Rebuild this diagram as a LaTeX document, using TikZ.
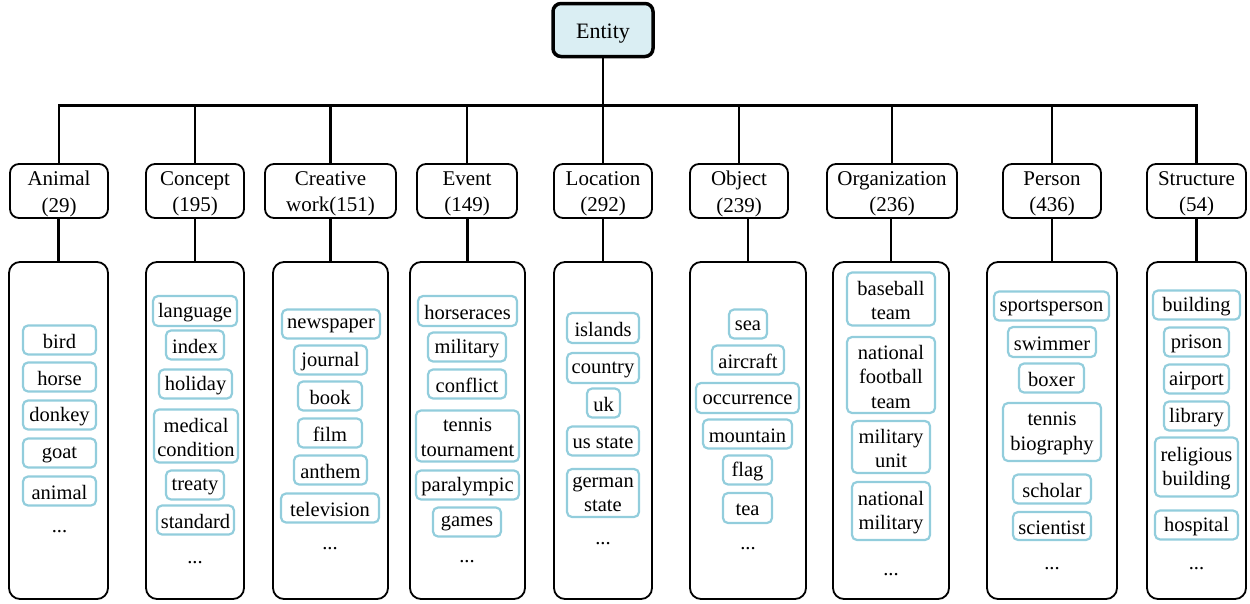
\documentclass[tikz,border=0pt]{standalone}
\usepackage{fontspec}
\setmainfont{Liberation Serif}
\definecolor{rootfill}{HTML}{DAEEF3}
\definecolor{tagline}{HTML}{92CDDC}
\newcommand\rootFont{\fontsize{22}{26}\selectfont}
\newcommand\catFont{\fontsize{21}{26.5}\selectfont}
\newcommand\tagFont{\fontsize{20.5}{24.5}\selectfont}
\tikzset{
  rootbox/.style={draw, line width=3.5pt, rounded corners=8pt, fill=rootfill,
    minimum width=100pt, minimum height=53pt, inner sep=0pt},
  catbox/.style={draw, line width=1.8pt, rounded corners=9pt,
    minimum height=54pt, inner sep=0pt},
  panel/.style={draw, line width=1.8pt, rounded corners=11pt,
    minimum height=337pt, inner sep=0pt},
  tag/.style={draw=tagline, line width=2.2pt, rounded corners=5pt, inner sep=0pt},
  label text/.style={align=center, inner sep=0pt},
  dots/.style={anchor=base, inner sep=0pt, font=\tagFont},
  link/.style={line width=2.6pt, line join=miter},
}
% frame node plus its centred caption
\newcommand\catnode[4]{%
  \node[catbox, minimum width=#3pt] (#1) at (#2,191) {};
  \node[label text, font=\catFont] (#1t) at ([yshift=-3pt]#1.center) {#4};}
\newcommand\tagnode[6]{%
  \node[tag, minimum width=#4pt, minimum height=#5pt] (#1) at (#2,#3) {};
  \node[label text, font=\tagFont] (#1t) at ([yshift=-1.5pt]#1.center) {#6};}
\begin{document}
\begin{tikzpicture}[x=1pt,y=-1pt]
\useasboundingbox (0,0) rectangle (1250,603);

% root
\node[rootbox] (root) at (603,30) {};
\node[label text, font=\rootFont] (roott) at ([yshift=-4pt]root.center) {Entity};

% categories
\catnode{cA}{59}{98}{Animal\\(29)}
\catnode{cC}{195}{98}{Concept\\(195)}
\catnode{cW}{330.5}{131}{Creative\\work(151)}
\catnode{cE}{467}{100}{Event\\(149)}
\catnode{cL}{603}{98}{Location\\(292)}
\catnode{cO}{739}{98}{Object\\(239)}
\catnode{cG}{892}{130}{Organization\\(236)}
\catnode{cP}{1052}{98}{Person\\(436)}
\catnode{cS}{1196.5}{99}{Structure\\(54)}

% panels
\node[panel, minimum width=99pt]  (pA) at (58.5,430.5)  {};
\node[panel, minimum width=98pt]  (pC) at (195,430.5)   {};
\node[panel, minimum width=115pt] (pW) at (330.5,430.5) {};
\node[panel, minimum width=115pt] (pE) at (467.5,430.5) {};
\node[panel, minimum width=98pt]  (pL) at (603,430.5)   {};
\node[panel, minimum width=116pt] (pO) at (748,430.5)   {};
\node[panel, minimum width=116pt] (pG) at (891,430.5)   {};
\node[panel, minimum width=130pt] (pP) at (1052,430.5)  {};
\node[panel, minimum width=99pt]  (pS) at (1196.5,430.5){};

% tree connectors
\coordinate (bar) at (0,105.5);
\draw[link] (cA.north) -- (cA.north |- bar) -- (cS.north |- bar) -- (cS.north);
\draw[link] (root.south) -- (root.south |- bar);
\foreach \c in {cC,cW,cE,cL,cO,cG,cP}
  \draw[link] (\c.north) -- (\c.north |- bar);
\foreach \c/\p in {cA/pA,cC/pC,cW/pW,cE/pE,cL/pL,cO/pO,cG/pG,cP/pP,cS/pS}
  \draw[link] (\p.north) -- (\p.north |- \c.south);

% Animal
\tagnode{a1}{59.5}{340}{73}{29}{bird}
\tagnode{a2}{59.5}{377}{73}{29}{horse}
\tagnode{a3}{59.5}{415}{73}{29}{donkey}
\tagnode{a4}{59.5}{453}{73}{29}{goat}
\tagnode{a5}{59.5}{491}{73}{29}{animal}
\node[dots] (a6) at (59.5,532) {...};

% Concept
\tagnode{b1}{195}{311}{84}{30}{language}
\tagnode{b2}{195}{345}{58}{29}{index}
\tagnode{b3}{195.5}{384}{73}{29}{holiday}
\tagnode{b4}{196}{436}{84}{53}{medical\\condition}
\tagnode{b5}{195}{485}{58}{29}{treaty}
\tagnode{b6}{195.5}{520}{77}{29}{standard}
\node[dots] (b7) at (195,563) {...};

% Creative work
\tagnode{w1}{331}{324}{98}{29}{newspaper}
\tagnode{w2}{330.5}{360}{73}{29}{journal}
\tagnode{w3}{330}{396}{64}{29}{book}
\tagnode{w4}{330}{433}{64}{29}{film}
\tagnode{w5}{330.5}{470}{73}{29}{anthem}
\tagnode{w6}{330}{508}{98}{29}{television}
\node[dots] (w7) at (330,549) {...};

% Event
\tagnode{e1}{467.5}{311}{99}{30}{horseraces}
\tagnode{e2}{467}{347}{78}{29}{military}
\tagnode{e3}{467}{384}{78}{29}{conflict}
\tagnode{e4}{467.5}{436}{103}{51}{tennis\\tournament}
\tagnode{e5}{467.5}{485}{103}{29}{paralympic}
\tagnode{e6}{467}{522}{68}{29}{games}
\node[dots] (e7) at (467,562) {...};

% Location
\tagnode{l1}{603}{328}{72}{30}{islands}
\tagnode{l2}{603}{368}{72}{30}{country}
\tagnode{l3}{603.5}{403}{33}{29}{uk}
\tagnode{l4}{603}{441}{72}{29}{us state}
\tagnode{l5}{603}{493}{72}{48}{german\\state}
\node[dots] (l6) at (603,544) {...};

% Object
\tagnode{o1}{748}{324}{38}{29}{sea}
\tagnode{o2}{748}{360}{72}{29}{aircraft}
\tagnode{o3}{747.5}{398}{103}{30}{occurrence}
\tagnode{o4}{747.5}{434}{89}{29}{mountain}
\tagnode{o5}{747.5}{470}{49}{29}{flag}
\tagnode{o6}{747.5}{508}{49}{30}{tea}
\node[dots] (o7) at (748,549) {...};

% Organization
\tagnode{g1}{891}{299}{88}{53}{baseball\\team}
\tagnode{g2}{891}{375}{88}{76}{national\\football\\team}
\tagnode{g3}{891}{447}{78}{52}{military\\unit}
\tagnode{g4}{891}{511}{78}{58}{national\\military}
\node[dots] (g5) at (891,575) {...};

% Person
\tagnode{r1}{1051.5}{306}{115}{29}{sportsperson}
\tagnode{r2}{1052}{342}{88}{30}{swimmer}
\tagnode{r3}{1051.5}{378}{65}{29}{boxer}
\tagnode{r4}{1052}{432}{98}{58}{tennis\\biography}
\tagnode{r5}{1052}{489}{78}{29}{scholar}
\tagnode{r6}{1052}{526}{78}{28}{scientist}
\node[dots] (r7) at (1052,569) {...};

% Structure
\tagnode{s1}{1196.5}{305}{87}{29}{building}
\tagnode{s2}{1196.5}{342}{65}{29}{prison}
\tagnode{s3}{1196.5}{379}{65}{29}{airport}
\tagnode{s4}{1196.5}{416}{65}{29}{library}
\tagnode{s5}{1196.5}{467}{83}{59}{religious\\building}
\tagnode{s6}{1196.5}{525}{83}{29}{hospital}
\node[dots] (s7) at (1196.5,569) {...};
\end{tikzpicture}
\end{document}
